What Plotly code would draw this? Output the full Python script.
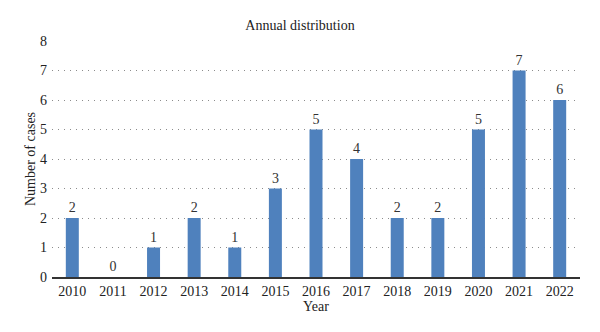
import plotly.graph_objects as go

years = ["2010", "2011", "2012", "2013", "2014", "2015", "2016", "2017", "2018", "2019", "2020", "2021", "2022"]
cases = [2, 0, 1, 2, 1, 3, 5, 4, 2, 2, 5, 7, 6]

font_family = "Liberation Serif, Times New Roman, serif"
label_font = dict(family=font_family, size=14, color="#333333")

fig = go.Figure(go.Bar(
    x=years, y=cases, width=0.32,
    marker=dict(color="#4f81bd", line=dict(width=0)),
    text=[str(v) for v in cases], textposition="outside",
    textfont=label_font, outsidetextfont=label_font, insidetextfont=label_font,
    cliponaxis=False,
))

fig.update_layout(
    width=600, height=332,
    margin=dict(l=52, r=20, t=41, b=55),
    paper_bgcolor="white", plot_bgcolor="white",
    font=dict(family=font_family, size=14, color="#222222"),
    title=dict(text="Annual distribution", x=0.5, xanchor="center", y=0.925, yanchor="middle",
               font=dict(family=font_family, size=14, color="#222222")),
    showlegend=False,
)
fig.update_xaxes(
    type="category", showline=True, linecolor="#333333", linewidth=1.5,
    ticks="", tickfont=dict(size=14),
    title=dict(text="Year", standoff=3, font=dict(size=14)),
    showgrid=False,
)
fig.update_yaxes(
    range=[0, 8], dtick=1, showgrid=True, gridcolor="#8c8c8c", griddash="1px,5px", gridwidth=1,
    zeroline=False, ticks="", tickfont=dict(size=14), ticklabelstandoff=4,
    title=dict(text="Number of cases", standoff=1, font=dict(size=14)),
)

fig.write_html("out.html")
